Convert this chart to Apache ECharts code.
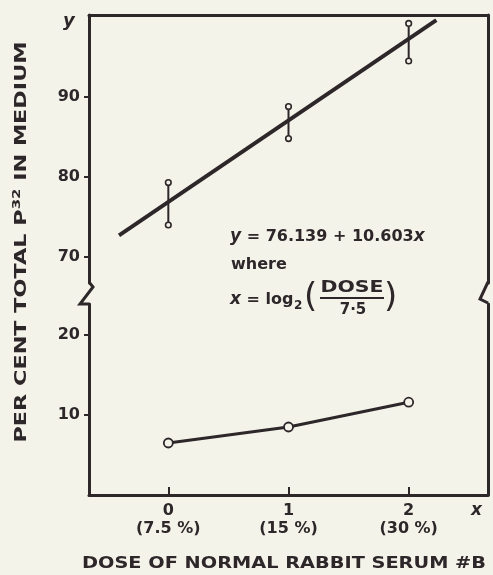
<!DOCTYPE html>
<html>
<head>
<meta charset="utf-8">
<script src="https://cdn.jsdelivr.net/npm/echarts@6/dist/echarts.min.js"></script>
<style>
html,body{margin:0;padding:0;background:#f4f3ea;}
#chart{width:493px;height:575px;}
</style>
</head>
<body>
<div id="chart"></div>
<script>
// ---- data ----
const doseX = [0, 1, 2];
const doseLabels = ['(7.5 %)', '(15 %)', '(30 %)'];
const upperLow = [74.0, 84.8, 94.5];
const upperHigh = [79.3, 88.8, 99.2];
const fitX = [-0.41, 2.23];
const fitY = [72.7, 99.6];
const lowerValues = [6.5, 8.5, 11.6];
const upperTicks = [70, 80, 90];
const lowerTicks = [10, 20];

const INK = '#2e272a';
const BG = '#f4f3ea';
const FONT = 'DejaVu Sans';

const chart = echarts.init(document.getElementById('chart'), null, {renderer: 'canvas'});

const errData = doseX.map((x, i) => [x, upperLow[i], upperHigh[i]]);
const fitData = fitX.map((x, i) => [x, fitY[i]]);
const lowData = doseX.map((x, i) => [x, lowerValues[i]]);

const XMIN = -0.66, XMAX = 2.66;

// measure plain text widths so titles can be stretched to the reference's wide lettering
const mctx = document.createElement('canvas').getContext('2d');
function textWidth(t, font) { mctx.font = font; return mctx.measureText(t).width; }

const X_TITLE = 'DOSE OF NORMAL RABBIT SERUM #B';
const X_FONT = 'bold 15px ' + FONT;
const xTitleScale = 404 / textWidth(X_TITLE, X_FONT);

const Y_FONT = 'bold 15px ' + FONT;
const yTitlePlainW = textWidth('PER CENT TOTAL P IN MEDIUM', Y_FONT) + textWidth('32', 'bold 10px ' + FONT);
const yTitleScale = 401 / yTitlePlainW;

const FRAC_FONT = 'bold 15px ' + FONT;
const doseScale = 63 / textWidth('DOSE', FRAC_FONT);

const axisLineStyle = {show: true, onZero: false, lineStyle: {color: INK, width: 3}};
const tickLabel = {color: INK, fontFamily: FONT, fontWeight: 'bold', fontSize: 16, margin: 9};

const option = {
  backgroundColor: BG,
  animation: false,
  grid: [
    {left: 89, top: 15, width: 399, height: 268},
    {left: 89, top: 304, width: 399, height: 191}
  ],
  xAxis: [
    {gridIndex: 0, type: 'value', min: XMIN, max: XMAX, position: 'top',
     axisLine: axisLineStyle, axisTick: {show: false}, axisLabel: {show: false}, splitLine: {show: false}},
    {gridIndex: 1, type: 'value', min: XMIN, max: XMAX, position: 'bottom',
     axisLine: axisLineStyle,
     axisTick: {show: true, inside: true, length: 8, lineStyle: {color: INK, width: 2}, customValues: doseX},
     axisLabel: Object.assign({}, tickLabel, {
       customValues: doseX, margin: 7, lineHeight: 18, fontSize: 16,
       formatter: v => { const i = doseX.indexOf(v); return i < 0 ? '' : v + '\n' + doseLabels[i]; }
     }),
     splitLine: {show: false}}
  ],
  yAxis: [
    {gridIndex: 0, type: 'value', min: 66.75, max: 100.25, position: 'left',
     axisLine: axisLineStyle,
     axisTick: {show: true, inside: false, length: 5, lineStyle: {color: INK, width: 2}, customValues: upperTicks},
     axisLabel: Object.assign({}, tickLabel, {customValues: upperTicks}),
     splitLine: {show: false}},
    {gridIndex: 0, type: 'value', min: 66.75, max: 100.25, position: 'right',
     axisLine: axisLineStyle, axisTick: {show: false}, axisLabel: {show: false}, splitLine: {show: false}},
    {gridIndex: 1, type: 'value', min: 0, max: 23.875, position: 'left',
     axisLine: axisLineStyle,
     axisTick: {show: true, inside: false, length: 5, lineStyle: {color: INK, width: 2}, customValues: lowerTicks},
     axisLabel: Object.assign({}, tickLabel, {customValues: lowerTicks}),
     splitLine: {show: false}},
    {gridIndex: 1, type: 'value', min: 0, max: 23.875, position: 'right',
     axisLine: axisLineStyle, axisTick: {show: false}, axisLabel: {show: false}, splitLine: {show: false}}
  ],
  series: [
    {type: 'line', xAxisIndex: 0, yAxisIndex: 0, data: fitData, symbol: 'none',
     lineStyle: {color: INK, width: 4}, z: 2},
    {type: 'custom', xAxisIndex: 0, yAxisIndex: 0, data: errData, clip: false, z: 3,
     renderItem: function (params, api) {
       const x = api.value(0);
       const lo = api.coord([x, api.value(1)]);
       const hi = api.coord([x, api.value(2)]);
       const r = 2.8;
       return {type: 'group', children: [
         {type: 'line', shape: {x1: lo[0], y1: lo[1] - r, x2: hi[0], y2: hi[1] + r},
          style: {stroke: INK, lineWidth: 2}},
         {type: 'circle', shape: {cx: lo[0], cy: lo[1], r: r}, style: {fill: BG, stroke: INK, lineWidth: 1.6}},
         {type: 'circle', shape: {cx: hi[0], cy: hi[1], r: r}, style: {fill: BG, stroke: INK, lineWidth: 1.6}}
       ]};
     }},
    {type: 'line', xAxisIndex: 1, yAxisIndex: 2, data: lowData, symbol: 'circle', symbolSize: 9,
     lineStyle: {color: INK, width: 3},
     itemStyle: {color: BG, borderColor: INK, borderWidth: 1.8}, z: 3}
  ],
  graphic: [
    // axis break marks
    {type: 'polyline', shape: {points: [[89, 282], [93, 287], [80, 304], [89, 304]]},
     style: {stroke: INK, lineWidth: 3, fill: null}},
    {type: 'polyline', shape: {points: [[488, 282], [480, 299], [488, 303]]},
     style: {stroke: INK, lineWidth: 3, fill: null}},
    // axis symbol labels
    {type: 'text', left: 63, top: 12, style: {text: 'y', font: 'italic bold 18px ' + FONT, fill: INK}},
    {type: 'text', left: 471, top: 502, style: {text: 'x', font: 'italic bold 17px ' + FONT, fill: INK}},
    // y-axis title
    {type: 'text', x: 22, y: 242, rotation: Math.PI / 2, scaleX: yTitleScale,
     style: {
       text: 'PER CENT TOTAL P{sup|32} IN MEDIUM',
       font: Y_FONT, fill: INK, align: 'center', verticalAlign: 'middle',
       rich: {sup: {fontSize: 10, fontFamily: FONT, fontWeight: 'bold', fill: INK, padding: [0, 0, 9, 0]}}
     }},
    // x-axis title
    {type: 'text', x: 284, y: 564, scaleX: xTitleScale,
     style: {text: X_TITLE, font: X_FONT, fill: INK, align: 'center', verticalAlign: 'middle'}},
    // equation
    {type: 'text', x: 230, y: 237,
     style: {text: '{i|y} = 76.139 + 10.603{i|x}', font: 'bold 16px ' + FONT, fill: INK, verticalAlign: 'middle',
             rich: {i: {fontStyle: 'italic', fontWeight: 'bold', fontSize: 17, fontFamily: FONT, fill: INK}}}},
    {type: 'text', x: 231, y: 265,
     style: {text: 'where', font: 'bold 16px ' + FONT, fill: INK, verticalAlign: 'middle'}},
    {type: 'text', x: 230, y: 300,
     style: {text: '{i|x} = log', font: 'bold 16px ' + FONT, fill: INK, verticalAlign: 'middle',
             rich: {i: {fontStyle: 'italic', fontWeight: 'bold', fontSize: 17, fontFamily: FONT, fill: INK}}}},
    {type: 'text', x: 294, y: 306,
     style: {text: '2', font: 'bold 12px ' + FONT, fill: INK, verticalAlign: 'middle'}},
    {type: 'text', x: 304, y: 298,
     style: {text: '(', font: '34px ' + FONT, fill: INK, verticalAlign: 'middle'}},
    {type: 'text', x: 352, y: 288, scaleX: doseScale,
     style: {text: 'DOSE', font: FRAC_FONT, fill: INK, align: 'center', verticalAlign: 'middle'}},
    {type: 'line', shape: {x1: 320, y1: 298, x2: 384, y2: 298}, style: {stroke: INK, lineWidth: 2}},
    {type: 'text', x: 353, y: 310,
     style: {text: '7·5', font: 'bold 15px ' + FONT, fill: INK, align: 'center', verticalAlign: 'middle'}},
    {type: 'text', x: 384, y: 298,
     style: {text: ')', font: '34px ' + FONT, fill: INK, verticalAlign: 'middle'}}
  ]
};
chart.setOption(option);
</script>
</body>
</html>
